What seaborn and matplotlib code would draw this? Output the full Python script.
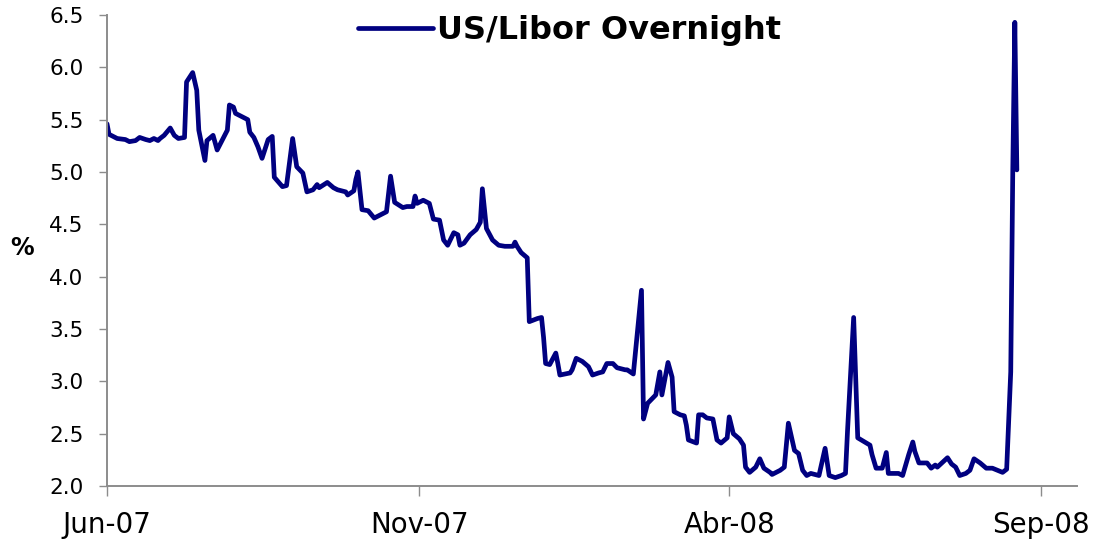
import numpy as np
import pandas as pd
import matplotlib
matplotlib.use("Agg")
import matplotlib.pyplot as plt
import seaborn as sns

# ---- data -------------------------------------------------------------
series_name = "US/Libor Overnight"
start_date = "2007-06-01"
day_offset = [
    0, 1, 5, 9, 11, 14, 16, 19, 21, 23, 25, 26, 28, 31, 33, 35, 38, 39, 42, 44,
    45, 48, 49, 52, 54, 59, 60, 62, 63, 67, 69, 70, 72, 74, 76, 79, 81, 82, 86, 88,
    91, 93, 96, 98, 101, 103, 104, 108, 111, 113, 117, 118, 121, 122, 123, 125, 128, 131, 135, 137,
    139, 141, 145, 147, 150, 151, 152, 155, 157, 158, 160, 163, 165, 167, 170, 172, 173, 175, 178, 181,
    183, 184, 186, 189, 192, 195, 199, 200, 201, 203, 206, 207, 211, 213, 214, 215, 217, 220, 221, 222,
    227, 228, 230, 233, 236, 238, 241, 243, 245, 248, 250, 254, 255, 258, 262, 263, 265, 269, 271, 272,
    275, 277, 278, 281, 283, 284, 285, 289, 290, 292, 294, 297, 299, 301, 304, 305, 307, 310, 312, 313,
    315, 318, 320, 322, 325, 326, 330, 332, 334, 337, 339, 341, 343, 345, 349, 352, 354, 357, 360, 362,
    363, 366, 368, 374, 375, 377, 380, 382, 383, 388, 390, 393, 395, 396, 398, 402, 404, 406, 407, 412,
    414, 416, 418, 421, 423, 425, 428, 431, 434, 439, 441, 443, 444, 445, 446,
]
rate = [
    5.46, 5.36, 5.32, 5.31, 5.29, 5.30, 5.33, 5.31, 5.30, 5.32, 5.30, 5.32, 5.35, 5.42, 5.35, 5.32, 5.33, 5.86, 5.95, 5.78,
    5.40, 5.11, 5.30, 5.35, 5.21, 5.40, 5.64, 5.62, 5.56, 5.52, 5.50, 5.38, 5.33, 5.24, 5.13, 5.31, 5.34, 4.95, 4.86, 4.87,
    5.32, 5.05, 4.99, 4.81, 4.83, 4.88, 4.85, 4.90, 4.85, 4.83, 4.81, 4.78, 4.82, 4.93, 5.00, 4.64, 4.63, 4.56, 4.60, 4.62,
    4.96, 4.71, 4.66, 4.67, 4.67, 4.77, 4.70, 4.73, 4.71, 4.70, 4.55, 4.54, 4.35, 4.30, 4.42, 4.40, 4.30, 4.32, 4.40, 4.45,
    4.52, 4.84, 4.46, 4.35, 4.30, 4.29, 4.29, 4.33, 4.29, 4.23, 4.18, 3.57, 3.60, 3.61, 3.42, 3.17, 3.16, 3.27, 3.17, 3.06,
    3.08, 3.11, 3.22, 3.19, 3.14, 3.06, 3.08, 3.09, 3.17, 3.17, 3.13, 3.11, 3.11, 3.07, 3.87, 2.64, 2.79, 2.87, 3.09, 2.87,
    3.18, 3.04, 2.71, 2.68, 2.67, 2.58, 2.44, 2.41, 2.68, 2.68, 2.65, 2.64, 2.44, 2.41, 2.46, 2.66, 2.50, 2.45, 2.39, 2.18,
    2.13, 2.18, 2.26, 2.17, 2.13, 2.11, 2.15, 2.18, 2.60, 2.34, 2.31, 2.15, 2.10, 2.12, 2.10, 2.36, 2.10, 2.08, 2.10, 2.12,
    2.53, 3.61, 2.46, 2.39, 2.30, 2.17, 2.17, 2.32, 2.12, 2.12, 2.10, 2.30, 2.42, 2.33, 2.22, 2.22, 2.17, 2.20, 2.18, 2.27,
    2.21, 2.18, 2.10, 2.12, 2.15, 2.26, 2.22, 2.17, 2.17, 2.13, 2.16, 3.09, 5.02, 6.43, 5.02,
]
tick_dates = ["2007-06-01", "2007-11-01", "2008-04-01", "2008-09-01"]
tick_labels = ["Jun-07", "Nov-07", "Abr-08", "Sep-08"]
y_ticks = [2.0, 2.5, 3.0, 3.5, 4.0, 4.5, 5.0, 5.5, 6.0, 6.5]

# ---- style ------------------------------------------------------------
sns.set_style("white")
plt.rcParams["font.family"] = ["DejaVu Sans"]
plt.rcParams["text.color"] = "black"
plt.rcParams["xtick.color"] = "black"
plt.rcParams["ytick.color"] = "black"
plt.rcParams["axes.labelcolor"] = "black"

line_color = "#000080"
spine_color = "#8c8c8c"

df = pd.DataFrame({
    "date": pd.Timestamp(start_date) + pd.to_timedelta(day_offset, unit="D"),
    "rate": rate,
})

fig = plt.figure(figsize=(10.94, 5.43), dpi=100)
ax = fig.add_axes([0.0978, 0.105, 0.8867, 0.8674])

sns.lineplot(data=df, x="date", y="rate", estimator=None, sort=False,
             color=line_color, linewidth=3.4, legend=False, ax=ax)

ax.set_xlim(pd.Timestamp(start_date), pd.Timestamp(start_date) + pd.Timedelta(days=475.5))
ax.set_ylim(2.0, 6.5)

ax.set_xticks(pd.to_datetime(tick_dates))
ax.set_xticklabels(tick_labels)
ax.set_yticks(y_ticks)
ax.set_yticklabels([f"{v:.1f}" for v in y_ticks])

for side in ["top", "right"]:
    ax.spines[side].set_visible(False)
for side in ["left", "bottom"]:
    ax.spines[side].set_color(spine_color)
    ax.spines[side].set_linewidth(1.4)

ax.tick_params(axis="y", which="major", direction="out", length=6, width=1.0,
               color=spine_color, labelcolor="black", labelsize=15.5, pad=11, left=True)
ax.tick_params(axis="x", which="major", direction="out", length=7, width=1.0,
               color=spine_color, labelcolor="black", labelsize=20, pad=11, bottom=True)

ax.set_xlabel("")
ax.set_ylabel("%", rotation=0, fontsize=17, fontweight="bold", ha="center", va="center")
ax.yaxis.set_label_coords(-0.0876, 0.505)

handle = ax.get_lines()[0]
ax.legend([handle], [series_name], loc="center left",
          bbox_to_anchor=(358 / 1094, 1 - 31 / 543), bbox_transform=fig.transFigure,
          frameon=False, borderpad=0, borderaxespad=0, handlelength=2.35,
          handletextpad=0.13, prop={"size": 23, "weight": "bold"})

fig.savefig("out.png", dpi=100)
